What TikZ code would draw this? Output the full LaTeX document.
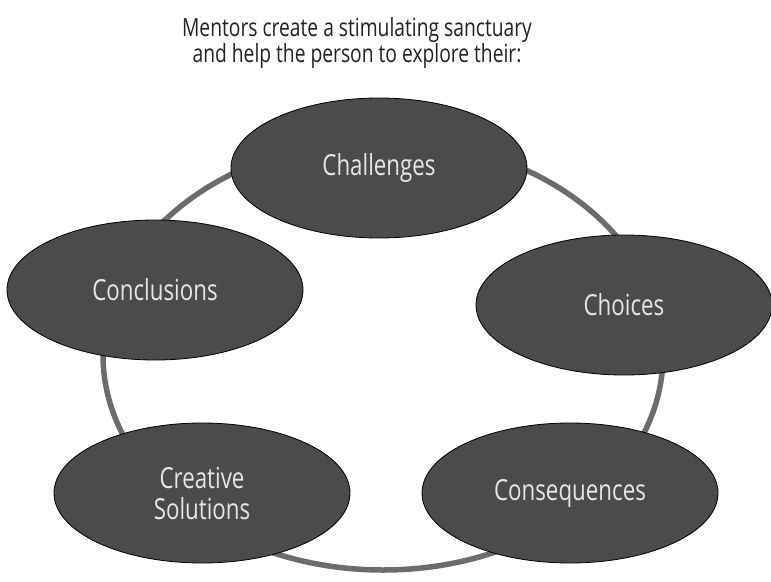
\documentclass[tikz,border=0pt]{standalone}
\usepackage{fontspec}
\setmainfont{Open Sans}[FakeStretch=0.77]
\usepackage{tikz}
\usetikzlibrary{shapes.geometric}
\definecolor{mdark}{HTML}{4B4B4B}
\definecolor{mring}{HTML}{6C6C6C}
\definecolor{mtext}{HTML}{E6E6E6}
\definecolor{mtitle}{HTML}{222222}
\tikzset{
  obox/.style={ellipse, draw=black, line width=0.8pt, fill=mdark, text=mtext,
               minimum width=296pt, minimum height=140pt, inner sep=0pt,
               align=center, font=\fontsize{29}{31}\selectfont},
  ring/.style={draw=mring, line width=5.5pt},
}

\begin{document}
\begin{tikzpicture}[x=1pt, y=-1pt]
  \useasboundingbox (0,0) rectangle (771,581);

  %% heading
  \node[text=mtitle, align=center, inner sep=0pt, font=\fontsize{25}{24}\selectfont] (head) at (357,43)
    {Mentors create a stimulating sanctuary\\and help the person to explore their:};

  %% the loop behind the five ovals
  \draw[ring] (383,355) ellipse [x radius=280, y radius=215];

  %% the five ovals
  \node[obox] (o1) at (379,168) {Challenges};
  \node[obox] (o2) at (624,305) {Choices};
  \node[obox] (o3) at (570,493) {Consequences};
  \node[obox] (o4) at (202,493) {Creative\\Solutions};
  \node[obox] (o5) at (155,290) {Conclusions};

\end{tikzpicture}
\end{document}
